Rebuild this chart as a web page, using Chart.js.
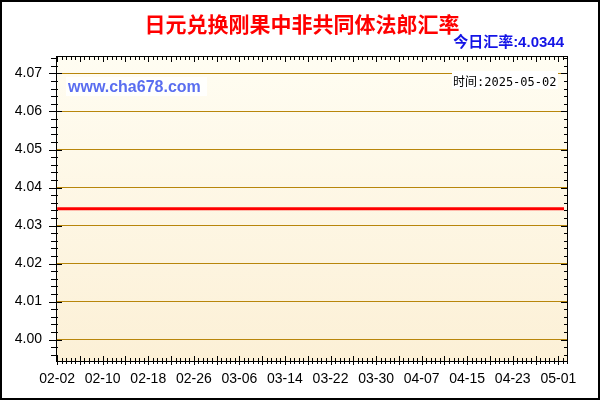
<!DOCTYPE html>
<html>
<head>
<meta charset="utf-8">
<title>日元兑换刚果中非共同体法郎汇率</title>
<script src="https://cdn.jsdelivr.net/npm/chart.js@4.4.1/dist/chart.umd.min.js"></script>
<style>
  html, body { margin: 0; padding: 0; background: #fff; }
  canvas { display: block; }
</style>
</head>
<body>
<canvas id="rateChart" width="600" height="400"></canvas>
<script>
const chartTitle = "日元兑换刚果中非共同体法郎汇率";
const todayRate = "今日汇率:4.0344";
const siteName = "www.cha678.com";
const dateText = "时间:2025-05-02";

// days counted from 2025-02-02
const pointDays = [0, 8, 16, 24, 32, 40, 48, 56, 64, 72, 80, 88, 89];
const rates = [4.0344, 4.0344, 4.0344, 4.0344, 4.0344, 4.0344, 4.0344, 4.0344, 4.0344, 4.0344, 4.0344, 4.0344, 4.0344];

const tickDays = [0, 8, 16, 24, 32, 40, 48, 56, 64, 72, 80, 88];
const tickLabels = ["02-02", "02-10", "02-18", "02-26", "03-06", "03-14", "03-22", "03-30", "04-07", "04-15", "04-23", "05-01"];
const yTicks = [4.00, 4.01, 4.02, 4.03, 4.04, 4.05, 4.06, 4.07];

const font = "'Liberation Sans', Arial, 'Noto Sans CJK SC', sans-serif";

function drawTicks(chart) {
  const ctx = chart.ctx;
  const a = chart.chartArea;
  const sx = chart.scales.x;
  const sy = chart.scales.y;
  ctx.save();
  ctx.strokeStyle = "#000";
  ctx.lineWidth = 1;
  ctx.beginPath();
  // x: major every 4 days, 5 steps in between
  for (let i = 0; sx.min + i * 0.8 <= sx.max + 0.5; i++) {
    const d = i * 0.8;
    if (d > sx.max) break;
    const px = Math.round(sx.getPixelForValue(d)) + 0.5;
    const major = i % 5 === 0;
    ctx.moveTo(px, a.bottom + (major ? 3 : 2));
    ctx.lineTo(px, a.bottom - (major ? 6 : 4));
    ctx.moveTo(px, a.top);
    ctx.lineTo(px, a.top + (major ? 6 : 4));
  }
  // y: major every 0.01, 5 steps in between
  for (let i = -3; i <= 37; i++) {
    const v = 4 + i * 0.002;
    if (v < sy.min || v > sy.max) continue;
    const py = Math.round(sy.getPixelForValue(v)) + 0.5;
    const major = ((i % 5) + 5) % 5 === 0;
    ctx.moveTo(a.left - (major ? 7 : 5), py);
    ctx.lineTo(a.left + (major ? 6 : 2), py);
    ctx.moveTo(a.right, py);
    ctx.lineTo(a.right - (major ? 7 : 4), py);
  }
  ctx.stroke();
  ctx.restore();
}

const decorations = {
  id: "decorations",
  beforeDraw(chart) {
    const ctx = chart.ctx;
    const a = chart.chartArea;
    ctx.save();
    ctx.fillStyle = "#fff";
    ctx.fillRect(0, 0, chart.width, chart.height);
    const grad = ctx.createLinearGradient(0, a.top, 0, a.bottom);
    grad.addColorStop(0, "#fffdf2");
    grad.addColorStop(1, "#fcf0d6");
    ctx.fillStyle = grad;
    ctx.fillRect(a.left, a.top, a.right - a.left, a.bottom - a.top);
    ctx.restore();
  },
  afterDraw(chart) {
    const ctx = chart.ctx;
    const a = chart.chartArea;
    ctx.save();

    // site name box
    ctx.fillStyle = "rgba(255,255,255,0.85)";
    ctx.fillRect(66, 77, 141, 19);
    ctx.fillStyle = "#5a6ef0";
    ctx.font = "bold 16px " + font;
    ctx.textAlign = "left";
    ctx.textBaseline = "alphabetic";
    ctx.fillText(siteName, 68, 92);

    // date box
    ctx.fillStyle = "#fff";
    ctx.fillRect(452, 71, 106, 18);
    ctx.fillStyle = "#000";
    ctx.font = "12px 'DejaVu Sans Mono', 'Noto Sans CJK SC', monospace";
    ctx.fillText(dateText, 453, 86);

    // frame of plot area
    ctx.strokeStyle = "#000";
    ctx.lineWidth = 1;
    ctx.strokeRect(a.left + 0.5, a.top + 0.5, a.right - a.left - 1, a.bottom - a.top - 1);
    ctx.restore();

    drawTicks(chart);

    ctx.save();
    // title
    ctx.fillStyle = "#ff0000";
    ctx.font = "bold 21px 'Noto Sans CJK SC', sans-serif";
    ctx.textAlign = "center";
    ctx.textBaseline = "middle";
    ctx.fillText(chartTitle, 302, 24);

    // today's rate
    ctx.fillStyle = "#1414e6";
    ctx.font = "bold 15px " + font;
    ctx.textAlign = "right";
    ctx.fillText(todayRate, 564, 43);

    // outer border
    ctx.strokeStyle = "#000";
    ctx.lineWidth = 2;
    ctx.strokeRect(1, 1, chart.width - 2, chart.height - 2);
    ctx.restore();
  }
};

const config = {
  type: "line",
  data: {
    datasets: [
      {
        label: "JPY/XAF",
        data: pointDays.map((d, i) => ({ x: d, y: rates[i] })),
        borderColor: "#ff0000",
        borderWidth: 3,
        pointRadius: 0,
        tension: 0,
      },
    ],
  },
  options: {
    responsive: false,
    animation: false,
    layout: { padding: { top: 56, right: 32, left: 0, bottom: 0 } },
    plugins: { legend: { display: false }, tooltip: { enabled: false } },
    scales: {
      x: {
        type: "linear",
        min: -0.2,
        max: 89.7,
        afterBuildTicks: (scale) => {
          scale.ticks = tickDays.map((d) => ({ value: d }));
        },
        afterFit: (scale) => {
          scale.height = 38;
        },
        grid: { display: false, drawTicks: false },
        border: { display: false },
        ticks: {
          autoSkip: false,
          maxRotation: 0,
          padding: 9,
          color: "#000",
          font: { family: font, size: 14 },
          callback: (value, index) => tickLabels[index],
        },
      },
      y: {
        min: 3.9941,
        max: 4.0746,
        afterBuildTicks: (scale) => {
          scale.ticks = yTicks.map((v) => ({ value: v }));
        },
        afterFit: (scale) => {
          scale.width = 56;
        },
        grid: { color: "#b8860b", lineWidth: 1, drawTicks: false },
        border: { display: false },
        ticks: {
          padding: 14,
          color: "#000",
          font: { family: font, size: 14 },
          callback: (value) => value.toFixed(2),
        },
      },
    },
  },
  plugins: [decorations],
};

const rateChart = new Chart(document.getElementById("rateChart"), config);
</script>
</body>
</html>
